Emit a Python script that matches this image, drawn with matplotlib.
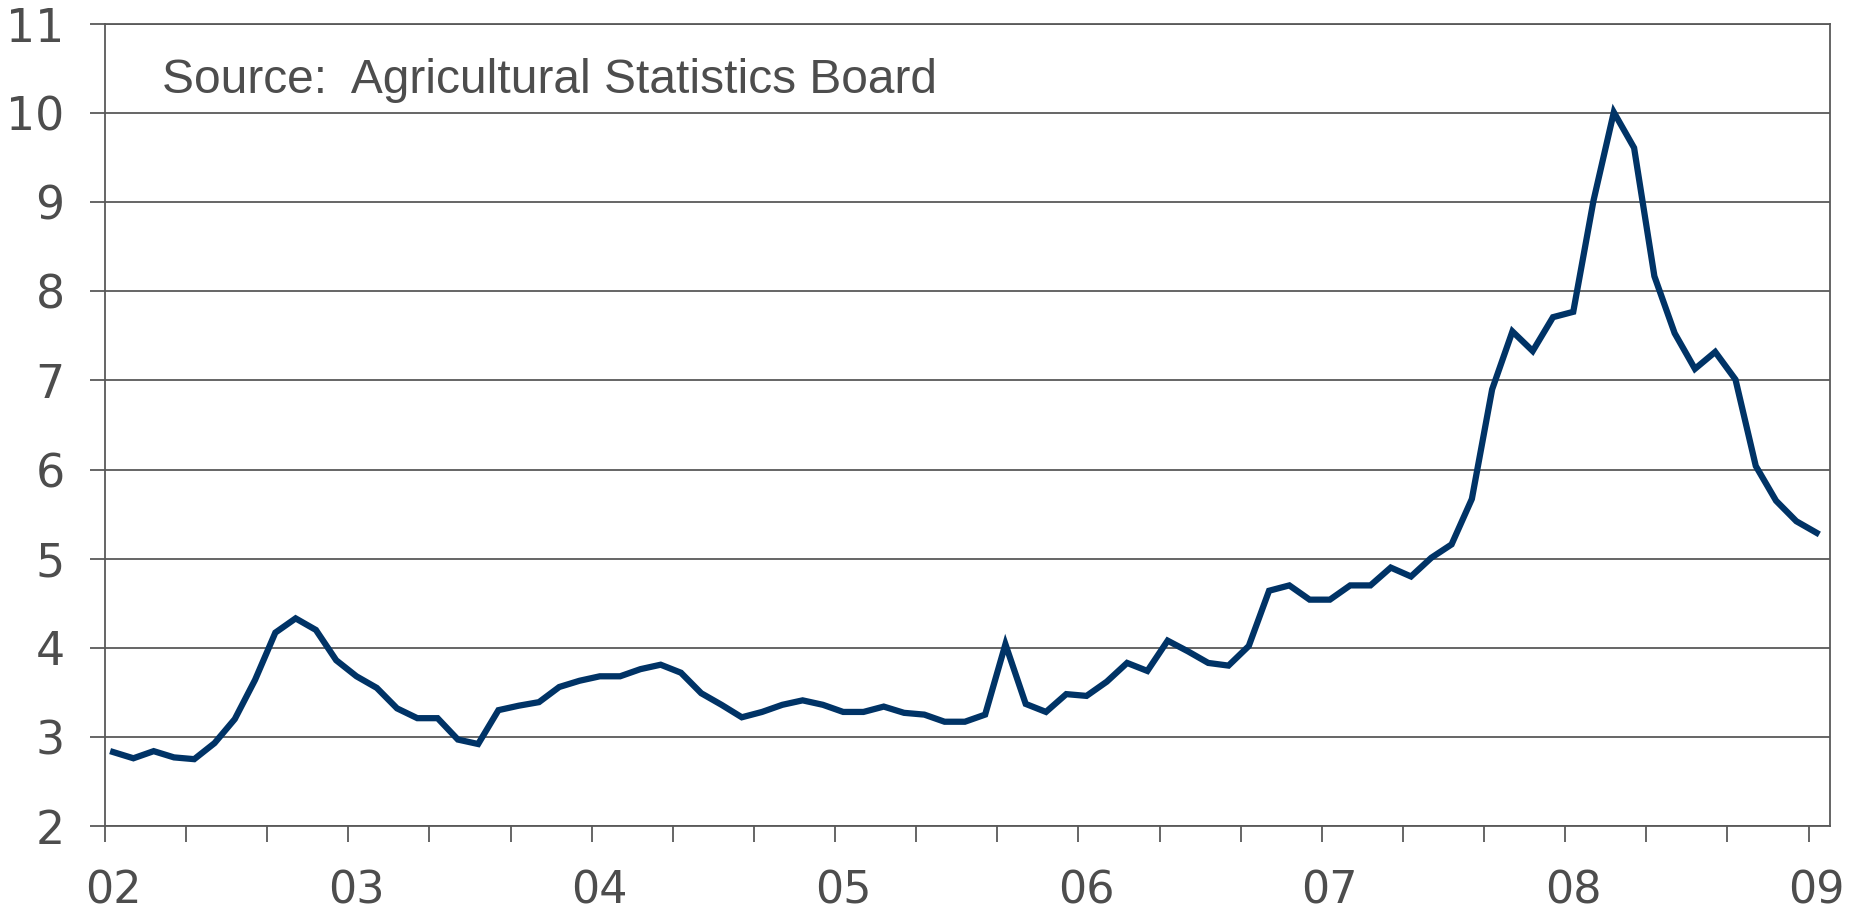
import numpy as np
import matplotlib
matplotlib.use("Agg")
import matplotlib.pyplot as plt
from matplotlib.ticker import MultipleLocator, FixedLocator, FixedFormatter
from matplotlib.transforms import ScaledTranslation

# Monthly values, Jan 2002 .. Jan 2009
values = [
    2.83, 2.76, 2.84, 2.77, 2.75, 2.93, 3.20, 3.64, 4.17, 4.33,
    4.20, 3.86, 3.68, 3.55, 3.32, 3.21, 3.21, 2.97, 2.92, 3.30,
    3.35, 3.39, 3.56, 3.63, 3.68, 3.68, 3.76, 3.81, 3.72, 3.49,
    3.36, 3.22, 3.28, 3.36, 3.41, 3.36, 3.28, 3.28, 3.34, 3.27,
    3.25, 3.17, 3.17, 3.25, 4.04, 3.37, 3.28, 3.48, 3.46, 3.62,
    3.83, 3.74, 4.08, 3.96, 3.83, 3.80, 4.02, 4.64, 4.70, 4.54,
    4.54, 4.70, 4.70, 4.90, 4.80, 5.01, 5.16, 5.67, 6.90, 7.55,
    7.33, 7.71, 7.77, 9.02, 10.01, 9.61, 8.17, 7.53, 7.13, 7.32,
    7.01, 6.04, 5.65, 5.42, 5.29,
]
year_labels = ["02", "03", "04", "05", "06", "07", "08", "09"]
source_text = "Source:  Agricultural Statistics Board"

months = np.arange(len(values)) + 0.4  # mid-month positions, months since Jan 2002
year_pos = np.arange(len(year_labels)) * 12

GRAY = "#595959"
TXT = "#4d4d4d"
LINE = "#003366"

fig = plt.figure(figsize=(18.52, 9.15), dpi=100)
ax = fig.add_axes([105/1852, 1 - 826/915, (1830-105)/1852, (826-24)/915])

ax.plot(months, values, color=LINE, lw=4.5, solid_joinstyle="miter", zorder=3)

ax.set_xlim(0, 85.06)
ax.set_ylim(2, 11)
ax.yaxis.set_major_locator(MultipleLocator(1))
ax.grid(axis="y", color=GRAY, lw=1.3, zorder=1)

ax.xaxis.set_major_locator(FixedLocator(year_pos))
ax.xaxis.set_major_formatter(FixedFormatter(year_labels))
ax.xaxis.set_minor_locator(MultipleLocator(4))

for s in ax.spines.values():
    s.set_color(GRAY)
    s.set_linewidth(1.3)

ax.tick_params(axis="y", direction="out", length=11, width=1.3, color=GRAY,
               labelsize=33, labelcolor=TXT, pad=18)
ax.tick_params(axis="x", which="both", direction="out", length=11.5, width=1.3,
               color=GRAY, labelsize=32, labelcolor=TXT, pad=20)

offset = ScaledTranslation(8/100, 0, fig.dpi_scale_trans)
for lab in ax.get_xticklabels():
    lab.set_transform(lab.get_transform() + offset)

ax.text(162/1852, 1 - 93/915, source_text, transform=fig.transFigure,
        fontsize=34.5, color=TXT, family="Liberation Sans", ha="left", va="baseline")

fig.savefig("out.png", dpi=100)
